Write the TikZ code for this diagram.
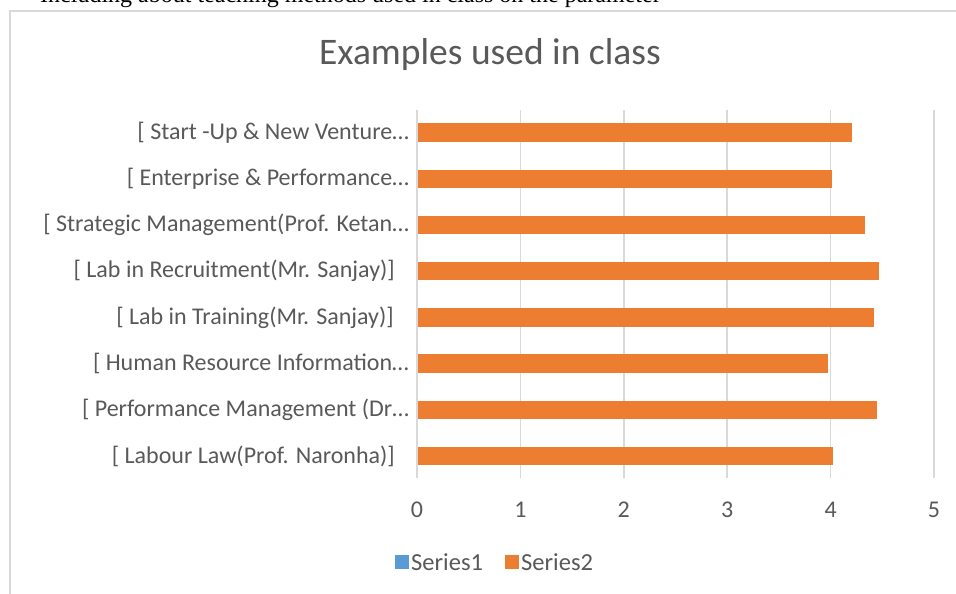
\documentclass[tikz,border=0pt]{standalone}
\usepackage{fontspec}
\setmainfont{Carlito}
\newfontfamily\bodyserif{Liberation Serif}
\definecolor{gridgray}{HTML}{D9D9D9}
\definecolor{labelgray}{HTML}{595959}
\definecolor{barorange}{HTML}{ED7D31}
\definecolor{legblue}{HTML}{5B9BD5}
\tikzset{
  frameline/.style={draw=gridgray, line width=2},
  gridline/.style={draw=gridgray, line width=1.5},
  barfill/.style={fill=barorange},
  catlabel/.style={anchor=east, inner sep=0, text=labelgray, font=\fontsize{24}{28}\selectfont},
  ticklabel/.style={anchor=center, inner sep=0, text=labelgray, font=\fontsize{24}{28}\selectfont},
  legtext/.style={anchor=west, inner sep=0, text=labelgray, font=\fontsize{24.5}{28}\selectfont},
  charttitle/.style={anchor=center, inner sep=0, text=labelgray, font=\fontsize{37.5}{44}\selectfont},
}
\begin{document}
\begin{tikzpicture}[x=1pt, y=-1pt]
\useasboundingbox (0,0) rectangle (956,594);
\fill[white] (0,0) rectangle (956,594);

% last line of the running text above the chart, cut off by the page
\begin{scope}
  \clip (0,0) rectangle (956,10);
  \node[anchor=base west, inner sep=0, font=\bodyserif\fontsize{24}{26}\selectfont] (prevline)
    at (40,2.5) {Including about teaching methods used in class on the parameter};
\end{scope}

% chart frame
\draw[frameline] (10,594) -- (10,11) -- (956,11);

% title
\node[charttitle] (title) at (490,55) {Examples used in class};

% value axis: 0 at x=417, 103.4 per unit
\def\xo{417}
\def\unit{103.4}
\foreach \k in {0,...,5} {
  \draw[gridline] ({\xo+\k*\unit},110) -- ({\xo+\k*\unit},478);
  \node[ticklabel] (tick\k) at ({\xo+\k*\unit},510) {\k};
}

% bars and category labels (shortened labels end with an ellipsis and reach a bit further right)
\foreach \i/\v/\r/\t in {
  0/4.21/409/{[ Start -Up \& New Venture…},
  1/4.01/409/{[ Enterprise \& Performance…},
  2/4.33/409/{[ Strategic Management(Prof. Ketan…},
  3/4.47/395/{[ Lab in Recruitment(Mr. Sanjay)]},
  4/4.42/394/{[ Lab in Training(Mr. Sanjay)]},
  5/3.97/409/{[ Human Resource Information…},
  6/4.45/409/{[ Performance Management  (Dr…},
  7/4.02/395/{[ Labour Law(Prof. Naronha)]}} {
  \pgfmathsetmacro{\yc}{132.5+\i*46.2}
  \fill[barfill] (418,{\yc-9.2}) rectangle ({\xo+\v*\unit},{\yc+9.2});
  \node[catlabel] (cat\i) at (\r,\yc) {\t};
}

% legend
\fill[legblue] (395,555) rectangle (409,569);
\node[legtext] (leg1) at (411,562) {Series1};
\fill[barorange] (505,555) rectangle (519,569);
\node[legtext] (leg2) at (521,562) {Series2};
\end{tikzpicture}
\end{document}
